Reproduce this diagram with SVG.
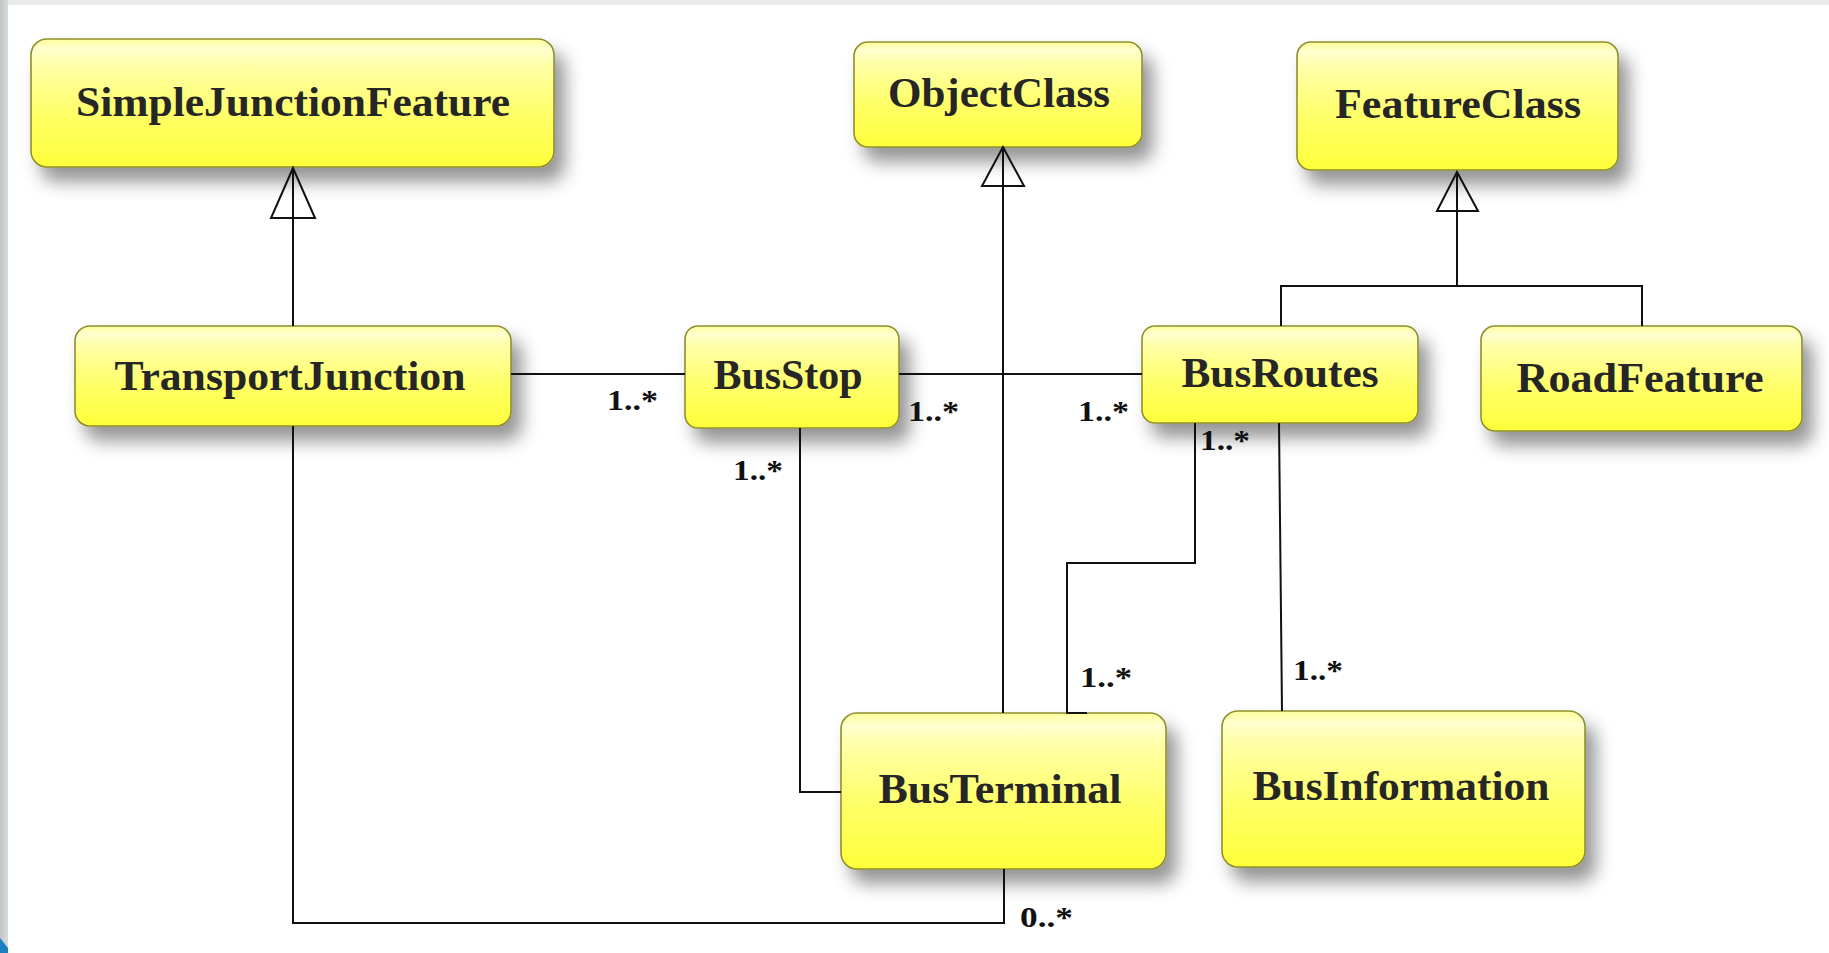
<svg xmlns="http://www.w3.org/2000/svg" width="1829" height="953" viewBox="0 0 1829 953">
  <defs>
    <linearGradient id="nodeFill" x1="0" y1="0" x2="0" y2="1">
      <stop offset="0" stop-color="#ffff9a"/>
      <stop offset="0.08" stop-color="#ffffd0"/>
      <stop offset="0.2" stop-color="#ffffa8"/>
      <stop offset="0.6" stop-color="#ffff66"/>
      <stop offset="1" stop-color="#ffff3a"/>
    </linearGradient>
    <linearGradient id="leftStrip" x1="0" y1="0" x2="1" y2="0">
      <stop offset="0" stop-color="#c2c6c8"/>
      <stop offset="1" stop-color="#d8dbdc"/>
    </linearGradient>
    <filter id="shadow" x="-20%" y="-30%" width="150%" height="180%">
      <feDropShadow dx="10" dy="14" stdDeviation="9" flood-color="#000" flood-opacity="0.42"/>
    </filter>
  </defs>
  <style>
    .box { fill: url(#nodeFill); stroke: #8f8f2c; stroke-width: 1.6; filter: url(#shadow); }
    .name { font-family: "Liberation Serif", "DejaVu Serif", serif; font-weight: bold; font-size: 42px; fill: #262626; text-anchor: middle; }
    .mult { font-family: "Liberation Serif", "DejaVu Serif", serif; font-weight: bold; font-size: 30px; fill: #111; }
    .wire { fill: none; stroke: #111; stroke-width: 2; }
    .head { fill: none; stroke: #111; stroke-width: 2; stroke-linejoin: miter; }
  </style>

  <!-- page frame -->
  <rect x="0" y="0" width="1829" height="953" fill="#ffffff"/>
  <rect x="0" y="0" width="1829" height="5" fill="#e9eaea"/>
  <rect x="0" y="0" width="8" height="953" fill="url(#leftStrip)"/>
  <polygon points="0,938 8,948 8,953 0,953" fill="#1a7fc0"/>

  <!-- class boxes -->
  <g id="SimpleJunctionFeature">
    <rect class="box" x="31" y="39" width="523" height="128" rx="16"/>
    <text class="name" x="293" y="116" textLength="434" lengthAdjust="spacingAndGlyphs">SimpleJunctionFeature</text>
  </g>
  <g id="ObjectClass">
    <rect class="box" x="854" y="42" width="288" height="105" rx="14"/>
    <text class="name" x="999" y="107" textLength="222" lengthAdjust="spacingAndGlyphs">ObjectClass</text>
  </g>
  <g id="FeatureClass">
    <rect class="box" x="1297" y="42" width="321" height="128" rx="14"/>
    <text class="name" x="1458" y="118" textLength="246" lengthAdjust="spacingAndGlyphs">FeatureClass</text>
  </g>
  <g id="TransportJunction">
    <rect class="box" x="75" y="326" width="436" height="100" rx="15"/>
    <text class="name" x="290" y="390" textLength="351" lengthAdjust="spacingAndGlyphs">TransportJunction</text>
  </g>
  <g id="BusStop">
    <rect class="box" x="685" y="326" width="214" height="102" rx="13"/>
    <text class="name" x="788" y="389" textLength="149" lengthAdjust="spacingAndGlyphs">BusStop</text>
  </g>
  <g id="BusRoutes">
    <rect class="box" x="1142" y="326" width="276" height="97" rx="13"/>
    <text class="name" x="1280" y="387" textLength="197" lengthAdjust="spacingAndGlyphs">BusRoutes</text>
  </g>
  <g id="RoadFeature">
    <rect class="box" x="1481" y="326" width="321" height="105" rx="14"/>
    <text class="name" x="1640" y="392" textLength="247" lengthAdjust="spacingAndGlyphs">RoadFeature</text>
  </g>
  <g id="BusTerminal">
    <rect class="box" x="841" y="713" width="325" height="156" rx="16"/>
    <text class="name" x="1000" y="803" textLength="243" lengthAdjust="spacingAndGlyphs">BusTerminal</text>
  </g>
  <g id="BusInformation">
    <rect class="box" x="1222" y="711" width="363" height="156" rx="16"/>
    <text class="name" x="1401" y="800" textLength="297" lengthAdjust="spacingAndGlyphs">BusInformation</text>
  </g>

  <!-- connectors -->
  <g id="connectors">
    <!-- generalisations -->
    <path class="wire" d="M293 326 V168"/>
    <polygon class="head" points="293,168 271,218 315,218"/>
    <path class="wire" d="M1003 713 V147"/>
    <polygon class="head" points="1003,147 982,186 1024,186"/>
    <path class="wire" d="M1457 286 V172"/>
    <polygon class="head" points="1457,172 1437,211 1478,211"/>
    <path class="wire" d="M1281 326 V286 H1642 V326"/>
    <!-- associations -->
    <path class="wire" d="M511 374 H685"/>
    <path class="wire" d="M899 374 H1142"/>
    <path class="wire" d="M800 428 V792 H841"/>
    <path class="wire" d="M1195 423 V563 H1067 V713 H1087"/>
    <path class="wire" d="M1279 423 L1282 711"/>
    <path class="wire" d="M293 426 V923 H1004 V869"/>
    <!-- multiplicities -->
    <text class="mult" x="607" y="410" textLength="51" lengthAdjust="spacingAndGlyphs">1..*</text>
    <text class="mult" x="908" y="421" textLength="51" lengthAdjust="spacingAndGlyphs">1..*</text>
    <text class="mult" x="1078" y="421" textLength="51" lengthAdjust="spacingAndGlyphs">1..*</text>
    <text class="mult" x="733" y="480" textLength="50" lengthAdjust="spacingAndGlyphs">1..*</text>
    <text class="mult" x="1200" y="450" textLength="50" lengthAdjust="spacingAndGlyphs">1..*</text>
    <text class="mult" x="1080" y="687" textLength="52" lengthAdjust="spacingAndGlyphs">1..*</text>
    <text class="mult" x="1293" y="680" textLength="50" lengthAdjust="spacingAndGlyphs">1..*</text>
    <text class="mult" x="1020" y="927" textLength="53" lengthAdjust="spacingAndGlyphs">0..*</text>
  </g>
</svg>
